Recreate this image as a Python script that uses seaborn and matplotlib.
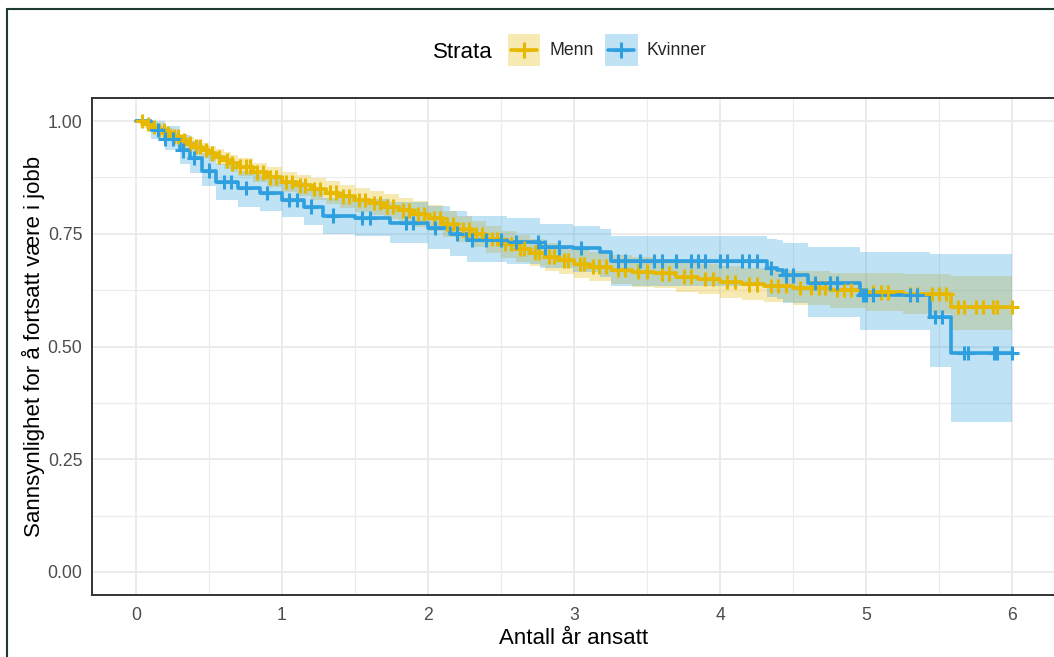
import numpy as np
import pandas as pd
import matplotlib
matplotlib.use("Agg")
import matplotlib.pyplot as plt
import seaborn as sns
from matplotlib.lines import Line2D
from matplotlib.patches import Patch, Rectangle
from matplotlib.legend_handler import HandlerTuple, HandlerLine2D

# ---------------- data ----------------
strata = ["Menn", "Kvinner"]
colors = ["#E7B800", "#2E9FDF"]

menn_time = [0, 0.05, 0.1, 0.15, 0.2, 0.25, 0.3, 0.35, 0.4, 0.45, 0.5, 0.55, 0.6, 0.65, 0.7,
             0.8, 0.9, 1.0, 1.1, 1.2, 1.3, 1.4, 1.5, 1.6, 1.7, 1.8, 1.9, 2.0, 2.1, 2.2, 2.3,
             2.4, 2.5, 2.6, 2.7, 2.8, 2.9, 3.0, 3.1, 3.25, 3.4, 3.55, 3.7, 3.85, 4.0, 4.15,
             4.3, 4.5, 4.75, 5.0, 5.25, 5.58, 6.0]
menn_surv = [1.0, 0.993, 0.987, 0.98, 0.973, 0.966, 0.958, 0.95, 0.943, 0.936, 0.928, 0.92,
             0.913, 0.906, 0.899, 0.886, 0.875, 0.865, 0.857, 0.849, 0.841, 0.833, 0.825,
             0.818, 0.81, 0.802, 0.794, 0.785, 0.772, 0.76, 0.749, 0.738, 0.727, 0.717,
             0.708, 0.699, 0.691, 0.683, 0.677, 0.670, 0.666, 0.662, 0.655, 0.65, 0.643,
             0.638, 0.634, 0.63, 0.625, 0.62, 0.616, 0.588, 0.588]
menn_lower = [1.0, 0.985, 0.977, 0.968, 0.96, 0.952, 0.944, 0.935, 0.927, 0.919, 0.911, 0.902,
              0.894, 0.886, 0.879, 0.865, 0.853, 0.842, 0.833, 0.824, 0.815, 0.807, 0.799,
              0.791, 0.782, 0.774, 0.765, 0.756, 0.743, 0.731, 0.72, 0.708, 0.697, 0.687,
              0.678, 0.668, 0.66, 0.652, 0.645, 0.638, 0.633, 0.629, 0.621, 0.616, 0.608,
              0.603, 0.599, 0.593, 0.586, 0.578, 0.572, 0.537, 0.537]
menn_upper = [1.0, 1.0, 0.995, 0.99, 0.985, 0.979, 0.972, 0.965, 0.958, 0.952, 0.945, 0.938,
              0.932, 0.925, 0.919, 0.907, 0.897, 0.888, 0.881, 0.874, 0.867, 0.859, 0.851,
              0.845, 0.838, 0.83, 0.823, 0.814, 0.801, 0.789, 0.778, 0.768, 0.757, 0.747,
              0.738, 0.73, 0.722, 0.714, 0.709, 0.702, 0.699, 0.695, 0.689, 0.684, 0.678,
              0.673, 0.669, 0.667, 0.664, 0.662, 0.66, 0.656, 0.656]
menn_censor = [0.04, 0.08, 0.12, 0.16, 0.19, 0.22, 0.26, 0.29, 0.33, 0.37, 0.41, 0.44, 0.48,
               0.52, 0.57, 0.62, 0.66, 0.71, 0.75, 0.78, 0.83, 0.87, 0.92, 0.96, 1.03, 1.07,
               1.12, 1.16, 1.22, 1.26, 1.33, 1.37, 1.42, 1.46, 1.53, 1.57, 1.63, 1.67, 1.72,
               1.76, 1.83, 1.87, 1.93, 1.97, 2.04, 2.08, 2.13, 2.17, 2.24, 2.28, 2.33, 2.37,
               2.44, 2.47, 2.53, 2.57, 2.63, 2.66, 2.73, 2.76, 2.83, 2.86, 2.93, 2.96, 3.04,
               3.07, 3.13, 3.17, 3.22, 3.3, 3.35, 3.44, 3.5, 3.6, 3.65, 3.75, 3.8, 3.9, 3.95,
               4.05, 4.1, 4.2, 4.25, 4.35, 4.4, 4.45, 4.55, 4.62, 4.68, 4.72, 4.8, 4.85, 4.9,
               5.05, 5.1, 5.15, 5.3, 5.35, 5.45, 5.5, 5.55, 5.63, 5.67, 5.75, 5.8, 5.87, 5.9,
               6.0]

kv_time = [0, 0.1, 0.2, 0.3, 0.37, 0.45, 0.55, 0.7, 0.85, 1.0, 1.15, 1.28, 1.5, 1.74, 2.0,
           2.15, 2.27, 2.54, 2.77, 2.99, 3.18, 3.25, 4.32, 4.39, 4.43, 4.6, 4.96, 5.44, 5.58,
           6.0]
kv_surv = [1.0, 0.98, 0.96, 0.935, 0.918, 0.89, 0.865, 0.851, 0.84, 0.825, 0.81, 0.79, 0.785,
           0.774, 0.763, 0.75, 0.736, 0.732, 0.72, 0.718, 0.71, 0.69, 0.674, 0.67, 0.658,
           0.641, 0.614, 0.565, 0.486, 0.486]
kv_lower = [1.0, 0.96, 0.935, 0.905, 0.885, 0.855, 0.825, 0.81, 0.8, 0.787, 0.77, 0.75, 0.745,
            0.73, 0.716, 0.70, 0.687, 0.682, 0.674, 0.665, 0.655, 0.635, 0.61, 0.605, 0.596,
            0.565, 0.537, 0.455, 0.333, 0.333]
kv_upper = [1.0, 1.0, 0.99, 0.97, 0.955, 0.93, 0.905, 0.89, 0.88, 0.865, 0.85, 0.83, 0.827,
            0.82, 0.812, 0.80, 0.79, 0.786, 0.772, 0.768, 0.76, 0.745, 0.738, 0.736, 0.73,
            0.72, 0.71, 0.705, 0.705, 0.705]
kv_censor = [0.15, 0.2, 0.25, 0.32, 0.4, 0.5, 0.6, 0.65, 0.75, 0.9, 1.05, 1.1, 1.2, 1.35, 1.55,
             1.6, 1.85, 1.9, 2.05, 2.2, 2.3, 2.4, 2.5, 2.6, 2.75, 2.8, 2.9, 3.05, 3.3, 3.35,
             3.45, 3.55, 3.6, 3.7, 3.8, 3.85, 3.9, 4.0, 4.05, 4.15, 4.2, 4.25, 4.35, 4.45,
             4.5, 4.65, 4.75, 4.8, 4.98, 5.0, 5.05, 5.3, 5.35, 5.47, 5.52, 5.67, 5.7, 5.88,
             5.9, 6.0]

x_ticks = [0, 1, 2, 3, 4, 5, 6]
y_ticks = [0.0, 0.25, 0.5, 0.75, 1.0]
y_ticklabels = ["0.00", "0.25", "0.50", "0.75", "1.00"]
x_label = "Antall år ansatt"
y_label = "Sannsynlighet for å fortsatt være i jobb"
legend_title = "Strata"

# ---------------- build tables ----------------
series = {
    "Menn": (menn_time, menn_surv, menn_lower, menn_upper, menn_censor),
    "Kvinner": (kv_time, kv_surv, kv_lower, kv_upper, kv_censor),
}
curve_rows, censor_rows = [], []
for name, (t, s, lo, up, cens) in series.items():
    t = np.asarray(t); s = np.asarray(s)
    for ti, si, li, ui in zip(t, s, lo, up):
        curve_rows.append(dict(strata=name, time=ti, surv=si, lower=li, upper=ui))
    for c in cens:
        idx = np.searchsorted(t, c, side="right") - 1
        censor_rows.append(dict(strata=name, time=c, surv=s[idx]))
curves = pd.DataFrame(curve_rows)
censors = pd.DataFrame(censor_rows)
palette = dict(zip(strata, colors))

# ---------------- style ----------------
sns.set_style("white")
plt.rcParams["font.family"] = ["Liberation Sans", "DejaVu Sans"]

W, H = 1054, 657
fig = plt.figure(figsize=(W / 100, H / 100), dpi=100)

# axes placement (pixels from reference)
x0_px, px_per_x = 136.0, 146.0
y1_px, px_per_y = 121.0, 451.0
xlim = (-0.3, 6.3)
ylim = (-0.05, 1.05)
left = (x0_px + xlim[0] * px_per_x) / W
width = (xlim[1] - xlim[0]) * px_per_x / W
top_px = y1_px - (ylim[1] - 1.0) * px_per_y
height = (ylim[1] - ylim[0]) * px_per_y / H
bottom = 1 - top_px / H - height
ax = fig.add_axes([left, bottom, width, height])

# confidence bands
for name in strata:
    d = curves[curves.strata == name]
    ax.fill_between(d["time"], d["lower"], d["upper"], step="post",
                    color=palette[name], alpha=0.3, linewidth=0, zorder=2)

sns.lineplot(data=curves, x="time", y="surv", hue="strata", hue_order=strata,
             palette=palette, estimator=None, drawstyle="steps-post",
             linewidth=2.6, legend=False, ax=ax, zorder=3)
sns.scatterplot(data=censors, x="time", y="surv", hue="strata", hue_order=strata,
                palette=palette, marker="+", s=110, linewidth=2.2, legend=False,
                ax=ax, zorder=4)

ax.set_xlim(*xlim)
ax.set_ylim(*ylim)
ax.set_xticks(x_ticks)
ax.set_xticklabels([str(v) for v in x_ticks])
ax.set_yticks(y_ticks)
ax.set_yticklabels(y_ticklabels)
ax.set_xticks(np.arange(0.5, 6.0, 1.0), minor=True)
ax.set_yticks(np.arange(0.125, 1.0, 0.25), minor=True)
ax.grid(True, which="major", color="#EBEBEB", linewidth=1.4, zorder=0)
ax.grid(True, which="minor", color="#EBEBEB", linewidth=0.8, zorder=0)
ax.set_axisbelow(True)
ax.tick_params(which="major", length=4, width=1.3, color="#333333",
               labelcolor="#4D4D4D", labelsize=12.7, pad=3)
ax.tick_params(axis="x", which="major", pad=5)
ax.tick_params(which="minor", length=0)
for sp in ax.spines.values():
    sp.set_color("#333333")
    sp.set_linewidth(1.4)

ax.set_xlabel(x_label, fontsize=16, color="black", labelpad=3)
ax.set_ylabel(y_label, fontsize=16, color="black")
ax.yaxis.set_label_coords((45 - left * W) / (width * W), 0.5)


# legend: key = light band square with a narrower line + censor mark centred in it
class ShortLineHandler(HandlerLine2D):
    def create_artists(self, legend, orig_handle, xdescent, ydescent, width, height,
                       fontsize, trans):
        shrink = 0.1 * width
        return super().create_artists(legend, orig_handle, xdescent - shrink,
                                      2 * ydescent, width - 2 * shrink,
                                      height, fontsize, trans)


handles = []
for name in strata:
    c = palette[name]
    handles.append((Patch(facecolor=c, alpha=0.3, edgecolor="none"),
                    Line2D([], [], color=c, lw=2.6, marker="+", ms=11, mew=2.2)))
fig.legend(handles, strata, loc="center", bbox_to_anchor=(607 / W, 1 - 50 / H),
           ncol=2, frameon=False, fontsize=12.7, handlelength=1.85, handleheight=2.5,
           handletextpad=0.5, columnspacing=0.65,
           handler_map={tuple: HandlerTuple(ndivide=1, pad=0),
                        Line2D: ShortLineHandler()})
fig.text(433 / W, 1 - 52 / H, legend_title, ha="left", va="center", fontsize=16, color="black")

# outer figure border
fig.patches.append(Rectangle((7 / W, -0.05), 1.2, 1.05 - 9 / H,
                             transform=fig.transFigure, fill=False,
                             edgecolor="#1d3b34", linewidth=1.5, zorder=10))

fig.savefig("out.png", dpi=100)
